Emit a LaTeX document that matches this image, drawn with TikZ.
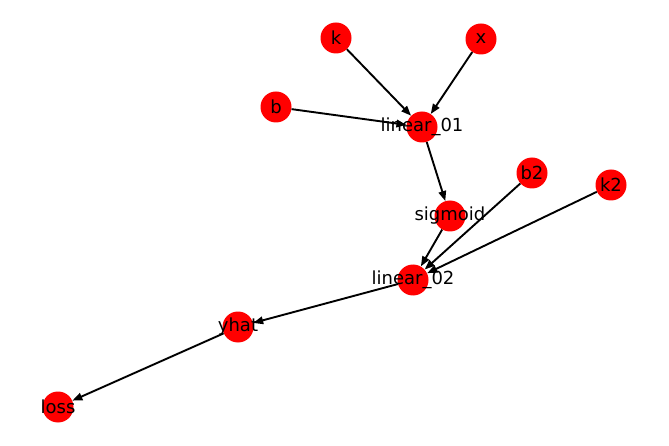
\documentclass[tikz,border=0pt]{standalone}
\usepackage{fontspec}
\setmainfont{DejaVu Sans}
\usetikzlibrary{arrows.meta}
\begin{document}
\begin{tikzpicture}[x=1pt,y=-1pt,
  gnode/.style={circle,fill=red,draw=none,inner sep=0pt,minimum size=31pt},
  glabel/.style={font=\fontsize{18}{20}\selectfont,text=black,inner sep=0pt,anchor=center},
  gedge/.style={draw=black,line width=1.9pt,-{Triangle[length=10pt,width=7.5pt]}}]
\fill[white] (0,0) rectangle (669,446);
\useasboundingbox (0,0) rectangle (669,446);
% nodes
\node[gnode] (k) at (336,38) {};
\node[gnode] (x) at (481,39) {};
\node[gnode] (b) at (276,107) {};
\node[gnode] (l1) at (422,127) {};
\node[gnode] (b2) at (532,173) {};
\node[gnode] (k2) at (611,185) {};
\node[gnode] (sig) at (450,216) {};
\node[gnode] (l2) at (413,280) {};
\node[gnode] (yhat) at (238,327) {};
\node[gnode] (loss) at (58,407) {};
% edges
\draw[gedge] (k) -- (l1);
\draw[gedge] (x) -- (l1);
\draw[gedge] (b) -- (l1);
\draw[gedge] (l1) -- (sig);
\draw[gedge] (sig) -- (l2);
\draw[gedge] (b2) -- (l2);
\draw[gedge] (k2) -- (l2);
\draw[gedge] (l2) -- (yhat);
\draw[gedge] (yhat) -- (loss);
% labels
\node[glabel] (tk) at (k) {k};
\node[glabel] (tx) at (x) {x};
\node[glabel] (tb) at (b) {b};
\node[glabel] (tl1) at (l1) {linear\_01};
\node[glabel] (tb2) at (b2) {b2};
\node[glabel] (tk2) at (k2) {k2};
\node[glabel] (tsig) at (sig) {sigmoid};
\node[glabel] (tl2) at (l2) {linear\_02};
\node[glabel] (tyhat) at (yhat) {yhat};
\node[glabel] (tloss) at (loss) {loss};
\end{tikzpicture}
\end{document}
